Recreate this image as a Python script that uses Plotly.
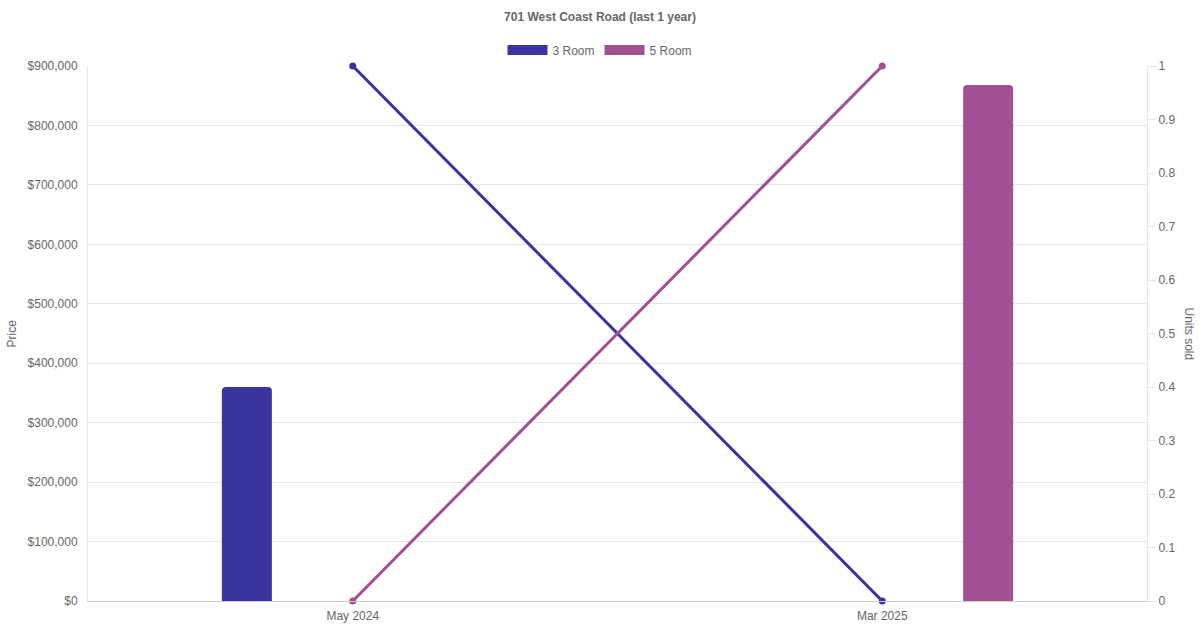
import plotly.graph_objects as go

categories = ["May 2024", "Mar 2025"]
series_names = ["3 Room", "5 Room"]
price_3room = [360000, None]
price_5room = [None, 868000]
units_3room = [1, 0]
units_5room = [0, 1]
price_ticks = [0, 100000, 200000, 300000, 400000, 500000, 600000, 700000, 800000, 900000]
price_tick_labels = ["$0", "$100,000", "$200,000", "$300,000", "$400,000", "$500,000",
                     "$600,000", "$700,000", "$800,000", "$900,000"]
units_ticks = [0, 0.1, 0.2, 0.3, 0.4, 0.5, 0.6, 0.7, 0.8, 0.9, 1]
units_tick_labels = ["0", "0.1", "0.2", "0.3", "0.4", "0.5", "0.6", "0.7", "0.8", "0.9", "1"]

colors = ["#39349f", "#a05093"]
font_family = "Liberation Sans, Arial, sans-serif"
text_color = "#666666"

fig = go.Figure()

bar_w = 50 / 529.5
for name, vals, col, center in [
    (series_names[0], price_3room, colors[0], -0.2),
    (series_names[1], price_5room, colors[1], 0.2),
]:
    fig.add_trace(go.Bar(
        x=categories, y=vals, name=name, marker=dict(color=col, line=dict(width=0)),
        width=bar_w, offset=center - bar_w / 2, legendgroup=name, showlegend=False,
        yaxis="y", hovertemplate="%{x}<br>" + name + ": %{y:$,.0f}<extra></extra>",
    ))

for name, vals, col in [
    (series_names[0], units_3room, colors[0]),
    (series_names[1], units_5room, colors[1]),
]:
    fig.add_trace(go.Scatter(
        x=categories, y=vals, name=name, mode="lines+markers",
        line=dict(color=col, width=3), marker=dict(color=col, size=7),
        legendgroup=name, showlegend=False, yaxis="y2", cliponaxis=False,
    ))

for name, col in zip(series_names, colors):
    fig.add_trace(go.Scatter(
        x=[None], y=[None], name=name, mode="lines",
        line=dict(color=col, width=12), legendgroup=name, showlegend=True,
        yaxis="y2",
    ))

fig.update_layout(
    width=1200, height=630,
    paper_bgcolor="white", plot_bgcolor="white",
    margin=dict(l=88, r=53, t=66, b=29, autoexpand=False),
    font=dict(family=font_family, size=12, color=text_color),
    barcornerradius=4,
    title=dict(text="<b>701 West Coast Road (last 1 year)</b>", x=0.5, xanchor="center",
               y=1 - 17 / 630, yanchor="middle", font=dict(size=12, color=text_color)),
    legend=dict(orientation="h", x=0.5, xref="container", xanchor="center",
                y=1 - 50 / 630, yref="container",
                yanchor="middle", font=dict(size=12, color=text_color),
                itemwidth=40, tracegroupgap=0, bgcolor="rgba(0,0,0,0)"),
    xaxis=dict(type="category", categoryorder="array", categoryarray=categories,
               range=[-0.5, 1.5], showgrid=False, showline=True, linecolor="#cccccc",
               linewidth=1, mirror=False, ticks="", zeroline=False, automargin=False,
               ticklabelstandoff=4, tickfont=dict(size=12, color=text_color)),
    yaxis=dict(range=[0, 900000], tickvals=price_ticks, ticktext=price_tick_labels,
               showgrid=True, gridcolor="#e5e5e5", gridwidth=1, zeroline=False,
               showline=True, linecolor="#e5e5e5", ticks="", ticklabelstandoff=7,
               automargin=False, tickfont=dict(size=12, color=text_color)),
    yaxis2=dict(range=[0, 1], tickvals=units_ticks, ticktext=units_tick_labels,
                overlaying="y", side="right", showgrid=False, zeroline=False,
                showline=True, linecolor="#e5e5e5", ticks="outside", ticklen=8,
                automargin=False, tickcolor="#e5e5e5", tickfont=dict(size=12, color=text_color)),
    annotations=[
        dict(text="Price", xref="paper", yref="paper", x=-(88 - 11) / 1059, y=0.5,
             textangle=-90, showarrow=False, font=dict(size=12, color=text_color),
             xanchor="center", yanchor="middle"),
        dict(text="Units sold", xref="paper", yref="paper", x=1 + (1189 - 1147) / 1059, y=0.5,
             textangle=90, showarrow=False, font=dict(size=12, color=text_color),
             xanchor="center", yanchor="middle"),
    ],
    showlegend=True,
    hovermode="closest",
)

fig.write_html(
    "out.html",
    config={"displayModeBar": False},
    post_script="document.body.style.margin='0';document.body.style.padding='0';",
)
